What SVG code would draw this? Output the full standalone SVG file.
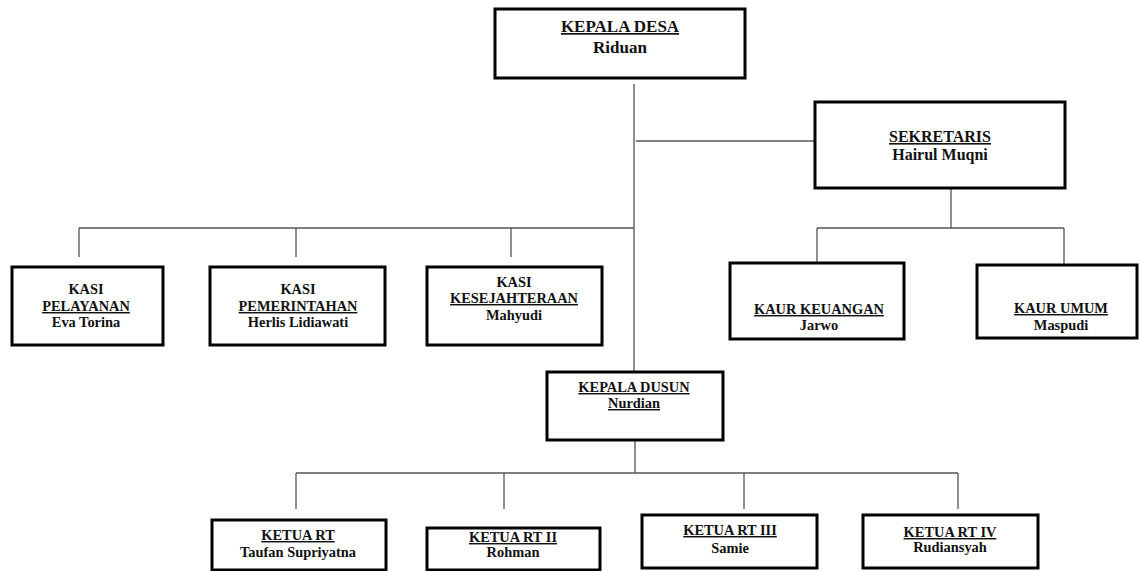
<svg xmlns="http://www.w3.org/2000/svg" width="1139" height="571" viewBox="0 0 1139 571">
<style>
.box{fill:#fff;stroke:#000;stroke-width:3}
.ln{stroke:#555;stroke-width:1.3;fill:none}
text{font-family:"Liberation Serif","Times New Roman",serif;font-weight:bold;fill:#111;text-anchor:middle}
.u{text-decoration:underline}
.t17{font-size:17px}
.t16{font-size:16px}
.t14{font-size:14.4px}
</style>
<rect width="1139" height="571" fill="#fff"/>
<g id="connectors">
<path class="ln" d="M634 84V372"/>
<path class="ln" d="M636 141H815"/>
<path class="ln" d="M951 188V228M817 228H1064M817 228V262M1064 228V265"/>
<path class="ln" d="M79 228H634M79 228V257M296 228V257M511 228V257"/>
<path class="ln" d="M635 440V473M296 473H958M296 473V509M504 473V509M744 473V509M958 473V509"/>
</g>
<g id="kepala-desa">
<rect class="box" x="495" y="9" width="250" height="69"/>
<text class="t17 u" x="620" y="32">KEPALA DESA</text>
<text class="t17" x="620" y="53">Riduan</text>
</g>
<g id="sekretaris">
<rect class="box" x="815" y="102" width="250" height="86"/>
<text class="t16 u" x="940" y="142">SEKRETARIS</text>
<text class="t16" x="940" y="160">Hairul Muqni</text>
</g>
<g id="kasi-pelayanan">
<rect class="box" x="12" y="267" width="151" height="78"/>
<text class="t14" x="86" y="294">KASI</text>
<text class="t14 u" x="86" y="311">PELAYANAN</text>
<text class="t14" x="86" y="327">Eva Torina</text>
</g>
<g id="kasi-pemerintahan">
<rect class="box" x="210" y="267" width="175" height="78"/>
<text class="t14" x="298" y="294">KASI</text>
<text class="t14 u" x="298" y="311">PEMERINTAHAN</text>
<text class="t14" x="298" y="327">Herlis Lidiawati</text>
</g>
<g id="kasi-kesejahteraan">
<rect class="box" x="427" y="267" width="175" height="78"/>
<text class="t14" x="514" y="287">KASI</text>
<text class="t14 u" x="514" y="303">KESEJAHTERAAN</text>
<text class="t14" x="514" y="320">Mahyudi</text>
</g>
<g id="kaur-keuangan">
<rect class="box" x="730" y="263" width="174" height="76"/>
<text class="t14 u" x="819" y="314">KAUR KEUANGAN</text>
<text class="t14" x="819" y="330">Jarwo</text>
</g>
<g id="kaur-umum">
<rect class="box" x="977" y="265" width="160" height="73"/>
<text class="t14 u" x="1061" y="313">KAUR UMUM</text>
<text class="t14" x="1061" y="330">Maspudi</text>
</g>
<g id="kepala-dusun">
<rect class="box" x="547" y="372" width="176" height="68"/>
<text class="t14 u" x="634" y="392">KEPALA DUSUN</text>
<text class="t14 u" x="634" y="408">Nurdian</text>
</g>
<g id="ketua-rt">
<rect class="box" x="212" y="520" width="174" height="50"/>
<text class="t14 u" x="298" y="540">KETUA RT</text>
<text class="t14" x="298" y="557">Taufan Supriyatna</text>
</g>
<g id="ketua-rt-ii">
<rect class="box" x="427" y="528" width="173" height="42"/>
<text class="t14 u" x="513" y="542">KETUA RT II</text>
<text class="t14" x="513" y="557">Rohman</text>
</g>
<g id="ketua-rt-iii">
<rect class="box" x="642" y="515" width="175" height="53"/>
<text class="t14 u" x="730" y="535">KETUA RT III</text>
<text class="t14" x="730" y="553">Samie</text>
</g>
<g id="ketua-rt-iv">
<rect class="box" x="863" y="515" width="175" height="53"/>
<text class="t14 u" x="950" y="537">KETUA RT IV</text>
<text class="t14" x="950" y="552">Rudiansyah</text>
</g>
</svg>
